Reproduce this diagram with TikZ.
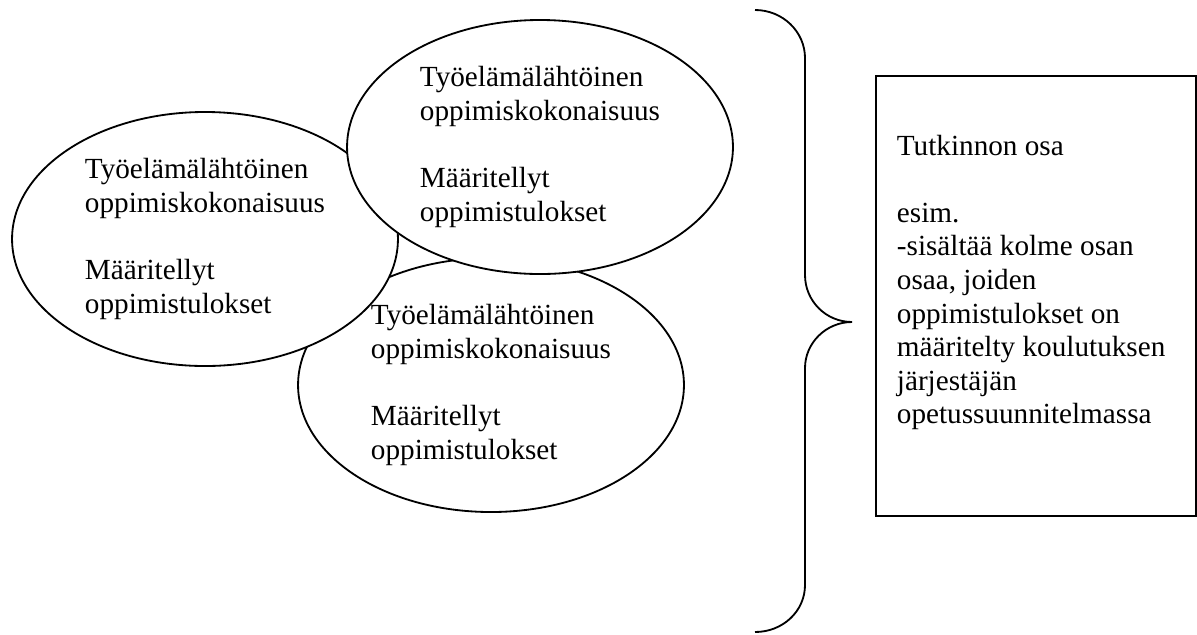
\documentclass[tikz,border=0pt]{standalone}
\usepackage{fontspec}
\setmainfont{Liberation Serif}
\usetikzlibrary{shapes}

\begin{document}
\begin{tikzpicture}[x=0.411pt,y=-0.411pt,line width=0.75pt]
\tikzstyle{kokonaisuus}=[ellipse,draw,fill=white,align=left,font=\fontsize{12}{13.8}\selectfont,minimum width=158.6pt,minimum height=104.4pt,inner sep=0pt]
\tikzstyle{teksti}=[anchor=north west,align=left,inner sep=0pt,font=\fontsize{12}{13.8}\selectfont]
\useasboundingbox (0,0) rectangle (1197,634);

% kolme oppimiskokonaisuutta
\node[kokonaisuus](K3) at (491,385) {Työelämälähtöinen\\oppimiskokonaisuus\\[13.8pt]Määritellyt\\oppimistulokset};
\node[kokonaisuus](K1) at (205,239) {Työelämälähtöinen\\oppimiskokonaisuus\\[13.8pt]Määritellyt\\oppimistulokset};
\node[kokonaisuus](K2) at (540,147) {Työelämälähtöinen\\oppimiskokonaisuus\\[13.8pt]Määritellyt\\oppimistulokset};

% aaltosulje
\draw (755,10) .. controls (783,10) and (805,32) .. (805,58) -- (805,275)
  .. controls (805,301) and (826,322) .. (852,322)
  .. controls (826,322) and (805,343) .. (805,368) -- (805,585)
  .. controls (805,611) and (783,632) .. (755,632);

% tutkinnon osa
\node[draw,minimum width=131.5pt,minimum height=180.8pt,anchor=north west,inner sep=0pt](osa) at (875,75) {};
\node[teksti](T4) at (896,134) {Tutkinnon osa\\[13.8pt]esim.\\-sisältää kolme osan\\osaa, joiden\\oppimistulokset on\\määritelty koulutuksen\\järjestäjän\\opetussuunnitelmassa};
\end{tikzpicture}
\end{document}
